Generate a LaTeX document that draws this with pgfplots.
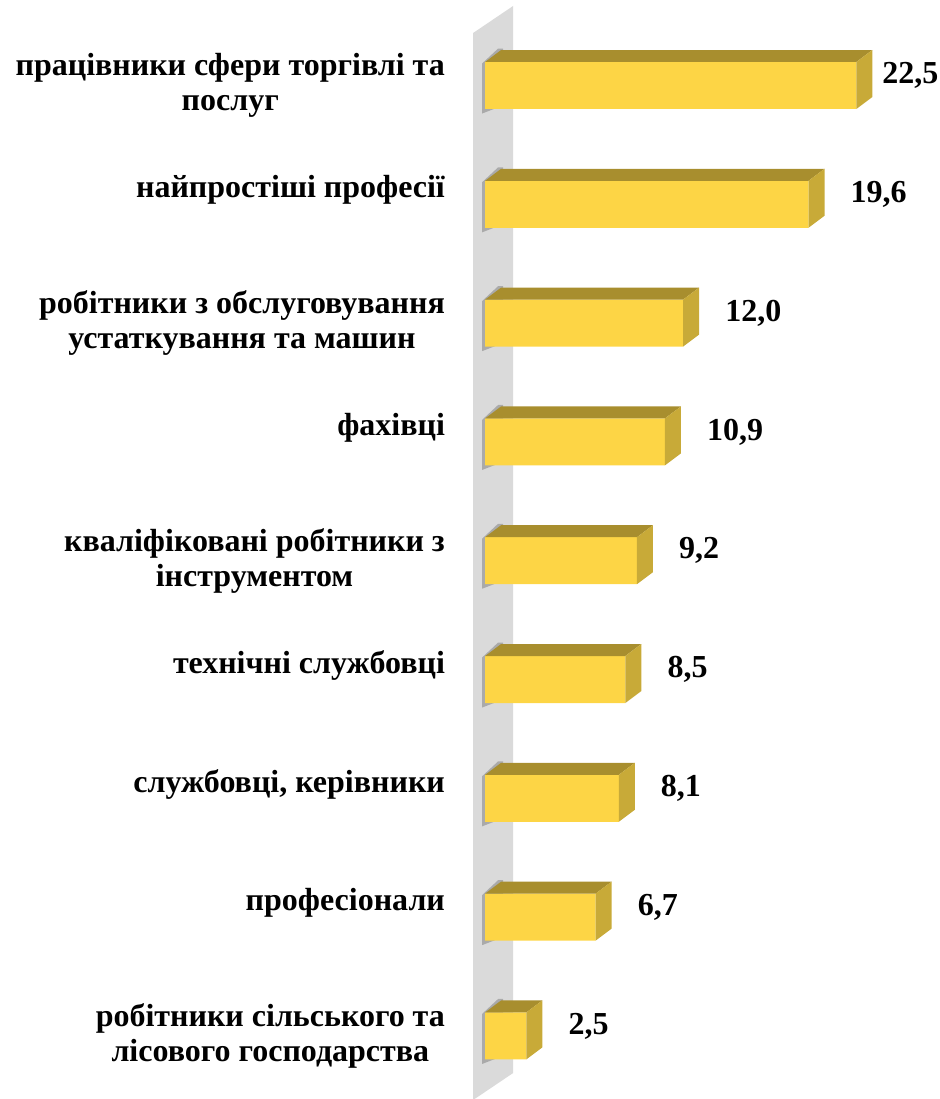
\documentclass[border=0pt]{standalone}
\usepackage{fontspec}
\setmainfont{Liberation Serif}
\usepackage{pgfplots}
\usepackage{pgfplotstable}
\pgfplotsset{compat=1.18}
\definecolor{frontc}{RGB}{253,213,69}
\definecolor{topc}{RGB}{168,142,46}
\definecolor{sidec}{RGB}{200,170,56}
\definecolor{wallc}{RGB}{218,218,218}

\pgfplotstableread{
idx val
0 22.5
1 19.6
2 12.0
3 10.9
4 9.2
5 8.5
6 8.1
7 6.7
8 2.5
}\data

\begin{document}
\begin{tikzpicture}
\begin{axis}[
  scale only axis, width=939bp, height=1099bp,
  xmin=-29.394, xmax=27.515,
  ymin=-0.7197, ymax=8.5311, y dir=reverse,
  clip=false,
  axis line style={draw=none},
  xtick=\empty,
  ytick={0,...,8},
  yticklabels={
    {працівники сфери торгівлі та\\послуг},
    {найпростіші професії\\\mbox{}},
    {робітники з обслуговування\\устаткування та машин},
    {фахівці\\\mbox{}},
    {кваліфіковані робітники з\\інструментом},
    {технічні службовці\\\mbox{}},
    {службовці, керівники\\\mbox{}},
    {професіонали\\\mbox{}},
    {робітники сільського та\\лісового господарства}},
  major tick length=0pt,
  yticklabel style={font=\fontsize{32bp}{35bp}\selectfont\bfseries, align=center, anchor=east, xshift=445bp, inner sep=0pt},
  /pgf/number format/.cd, fixed, fixed zerofill, precision=1, use comma, assume math mode=true,
]
% back wall
\addplot[fill=wallc, draw=none, forget plot] coordinates {(-0.727,-0.4419) (1.697,-0.6692) (1.697,8.3123) (-0.636,8.5311) (-0.727,8.5311)};
% shadows on wall
\pgfplotsinvokeforeach{0,...,8}{
  \pgfmathsetmacro\sa{#1-0.185}
  \pgfmathsetmacro\sb{#1-0.311}
  \pgfmathsetmacro\sc{#1+0.168}
  \pgfmathsetmacro\sd{#1+0.236}
  \edef\tmp{\noexpand\addplot[fill=black, fill opacity=0.22, draw=none, forget plot] coordinates {(-0.182,\sa) (0.788,\sb) (1.091,\sb) (1.091,\sc) (-0.182,\sd)};}
  \tmp
}
% front faces
\addplot[xbar, bar width=47bp, fill=frontc, draw=none,
  visualization depends on={rawx \as \rawv},
  nodes near coords,
  every node near coord/.append style={anchor=west, xshift={min(42,397-16.5*\rawv)*1.00375}, yshift=10bp, inner sep=0pt, font=\fontsize{32bp}{32bp}\selectfont\bfseries, text=black}]
  table[x=val, y=idx]{\data};
% top and side faces
\pgfplotsinvokeforeach{0,...,8}{
  \pgfplotstablegetelem{#1}{val}\of\data
  \let\v=\pgfplotsretval
  \pgfmathsetmacro\va{\v+0.970}
  \pgfmathsetmacro\ya{#1-0.1978}
  \pgfmathsetmacro\yb{#1-0.2988}
  \pgfmathsetmacro\yc{#1+0.1978}
  \pgfmathsetmacro\yd{#1+0.0968}
  \edef\tmp{\noexpand\addplot[fill=topc, draw=none, forget plot] coordinates {(0,\ya) (\v,\ya) (\va,\yb) (0.970,\yb)};
    \noexpand\addplot[fill=sidec, draw=none, forget plot] coordinates {(\v,\ya) (\va,\yb) (\va,\yd) (\v,\yc)};}
  \tmp
}
\end{axis}
\end{tikzpicture}
\end{document}
